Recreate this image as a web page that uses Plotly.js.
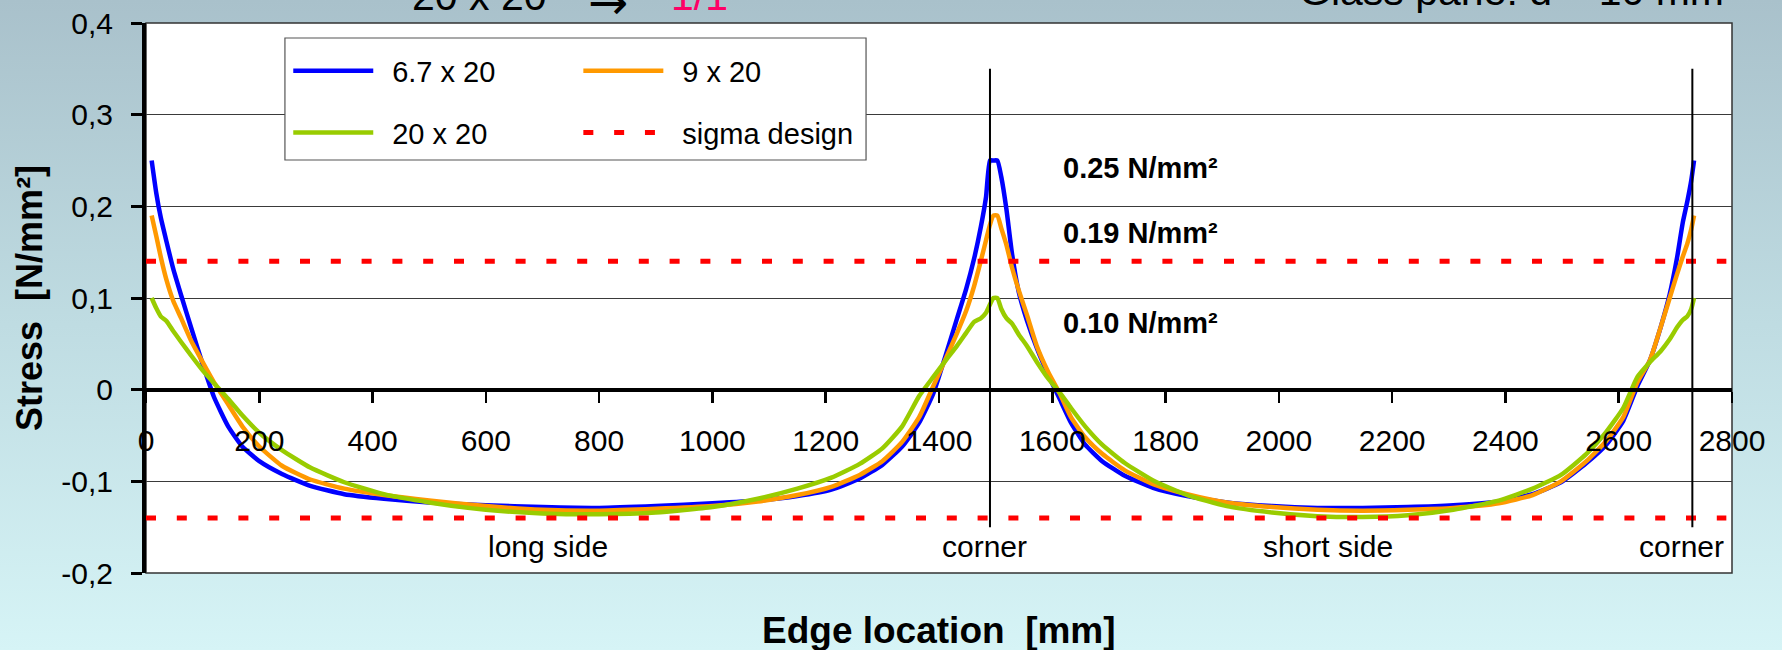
<!DOCTYPE html>
<html>
<head>
<meta charset="utf-8">
<script src="https://cdn.plot.ly/plotly-3.0.1.min.js"></script>
<style>
  html, body { margin: 0; padding: 0; }
  body {
    width: 1782px; height: 650px; overflow: hidden;
    background: linear-gradient(to bottom, #a9c1cb 0%, #bfdce2 50%, #d6f4f6 100%);
  }
  #chart { width: 1782px; height: 650px; }
</style>
</head>
<body>
<div id="chart"></div>
<script>
// Edge stress along the pane perimeter: long side, corner, short side, corner.
const edgeLocation = [
  10, 18, 26, 36, 48, 62, 80, 100, 120, 145, 170, 200, 240, 290, 350, 420, 500, 600, 700, 800,
  900, 1000, 1080, 1150, 1210, 1260, 1300, 1335, 1365, 1390, 1412, 1432, 1448, 1462, 1474, 1483,
  1490, 1496, 1503,
  1510, 1519, 1529, 1541, 1555, 1573, 1593, 1613, 1633, 1658, 1688, 1728, 1778, 1838, 1908, 1988,
  2068, 2148, 2228, 2308, 2388, 2448, 2498, 2543, 2578, 2608, 2633, 2655, 2674, 2690, 2703, 2713,
  2721, 2728, 2733
];

// 6.7 x 20
const stress6_7x20 = [
  0.25, 0.215, 0.188, 0.162, 0.132, 0.103, 0.067, 0.028, -0.008, -0.040, -0.062, -0.078, -0.092, -0.105, -0.114, -0.119, -0.123, -0.126, -0.128, -0.129,
  -0.127, -0.124, -0.121, -0.116, -0.109, -0.097, -0.082, -0.062, -0.036, -0.004, 0.038, 0.078, 0.110, 0.143, 0.178, 0.210,
  0.25, 0.25, 0.25,
  0.232, 0.197, 0.148, 0.106, 0.076, 0.045, 0.016, -0.010, -0.036, -0.060, -0.078, -0.094, -0.107, -0.116, -0.123, -0.127,
  -0.129, -0.129, -0.128, -0.126, -0.122, -0.114, -0.101, -0.080, -0.060, -0.034, 0.004, 0.032, 0.068, 0.104, 0.144, 0.182,
  0.205, 0.228, 0.25
];

// 9 x 20
const stress9x20 = [
  0.19, 0.168, 0.145, 0.120, 0.097, 0.078, 0.053, 0.030, 0.008, -0.016, -0.040, -0.062, -0.083, -0.098, -0.108, -0.115, -0.121, -0.127, -0.131, -0.132,
  -0.130, -0.127, -0.122, -0.115, -0.106, -0.093, -0.078, -0.057, -0.030, 0.004, 0.034, 0.062, 0.086, 0.113, 0.141, 0.163,
  0.180, 0.19, 0.19,
  0.176, 0.158, 0.133, 0.108, 0.082, 0.047, 0.019, -0.004, -0.030, -0.052, -0.070, -0.088, -0.103, -0.114, -0.123, -0.128,
  -0.131, -0.132, -0.131, -0.129, -0.124, -0.115, -0.100, -0.078, -0.056, -0.030, 0.008, 0.032, 0.068, 0.100, 0.126, 0.145,
  0.159, 0.175, 0.19
];

// 20 x 20
const stress20x20 = [
  0.10, 0.089, 0.080, 0.075, 0.064, 0.052, 0.037, 0.021, 0.007, -0.010, -0.028, -0.047, -0.066, -0.085, -0.101, -0.114, -0.123, -0.131, -0.135, -0.136,
  -0.134, -0.128, -0.119, -0.108, -0.096, -0.081, -0.064, -0.040, -0.007, 0.014, 0.032, 0.048, 0.062, 0.074, 0.078, 0.084,
  0.093, 0.10, 0.10,
  0.088, 0.078, 0.072, 0.060, 0.048, 0.030, 0.012, -0.003, -0.020, -0.040, -0.060, -0.080, -0.099, -0.115, -0.127, -0.134,
  -0.138, -0.139, -0.137, -0.131, -0.121, -0.108, -0.093, -0.070, -0.046, -0.020, 0.014, 0.030, 0.042, 0.055, 0.068, 0.076,
  0.080, 0.088, 0.10
];

// design stress limit (+/-)
const sigmaDesign = 0.14;
const sigmaSpan = [0, 2790];

// pane corners along the perimeter coordinate
const cornerLocations = [1490, 2730];

// axis ticks
const xTickValues = [0, 200, 400, 600, 800, 1000, 1200, 1400, 1600, 1800, 2000, 2200, 2400, 2600, 2800];
const yTickValues = [-0.2, -0.1, 0, 0.1, 0.2, 0.3, 0.4];
const yTickLabels = ['-0,2', '-0,1', '0', '0,1', '0,2', '0,3', '0,4'];

// text along the edge
const edgeSectionLabels = ['long side', 'corner', 'short side', 'corner'];
const edgeSectionX = [710, 1480, 2087, 2710];

const FONT = 'Liberation Sans, Arial, Helvetica, sans-serif';
const GAP = '\u00A0\u2009';

const curveLine = (color) => ({ color: color, width: 4.5, shape: 'spline', smoothing: 0.5 });

const traces = [
  { x: edgeLocation, y: stress6_7x20, name: GAP + '6.7 x 20', mode: 'lines',
    line: curveLine('#0000ff'), legend: 'legend', legendgroup: 'a' },
  { x: edgeLocation, y: stress9x20, name: GAP + '9 x 20', mode: 'lines',
    line: curveLine('#ff9900'), legend: 'legend2', legendgroup: 'c' },
  { x: edgeLocation, y: stress20x20, name: GAP + '20 x 20', mode: 'lines',
    line: curveLine('#99cc00'), legend: 'legend', legendgroup: 'b' },
  { x: [sigmaSpan[0], sigmaSpan[1], null, sigmaSpan[0], sigmaSpan[1]],
    y: [sigmaDesign, sigmaDesign, null, -sigmaDesign, -sigmaDesign],
    name: GAP + 'sigma design', mode: 'lines', connectgaps: false,
    line: { color: '#ff0000', width: 5, dash: '10px,20.8px' }, legend: 'legend2', legendgroup: 'd' }
];

const peakLabel = v => v.toFixed(2) + ' N/mm²';
const peaks = [Math.max(...stress6_7x20), Math.max(...stress9x20), Math.max(...stress20x20)];
const peakLabelY = [0.2414, 0.1708, 0.0727];

const annotations = [];
peaks.forEach((p, i) => annotations.push({
  xref: 'x', yref: 'y', x: 1615, y: peakLabelY[i], xanchor: 'left', yanchor: 'middle',
  text: '<b>' + peakLabel(p) + '</b>', showarrow: false,
  font: { family: FONT, size: 29, color: '#000' }
}));
edgeSectionLabels.forEach((t, i) => annotations.push({
  xref: 'x', yref: 'y', x: edgeSectionX[i], y: -0.1713, xanchor: 'center', yanchor: 'middle',
  text: t, showarrow: false, font: { family: FONT, size: 30, color: '#000' }
}));
const headerY = 1.049;
annotations.push(
  { xref: 'paper', yref: 'paper', x: -0.0738, y: 0.5, xanchor: 'center', yanchor: 'middle',
    textangle: -90, text: '<b>Stress\u00A0 [N/mm²]</b>', showarrow: false,
    font: { family: FONT, size: 36, color: '#000' } },
  { xref: 'paper', yref: 'paper', x: 0.5, y: -0.104, xanchor: 'center', yanchor: 'middle',
    text: '<b>Edge location\u00A0 [mm]</b>', showarrow: false,
    font: { family: FONT, size: 37, color: '#000' } },
  { xref: 'paper', yref: 'paper', x: 0.1665, y: headerY, xanchor: 'left', yanchor: 'middle',
    text: '20 x 20', showarrow: false, font: { family: FONT, size: 41, color: '#000' } },
  { xref: 'paper', yref: 'paper', x: 0.2913, y: 1.0385, xanchor: 'center', yanchor: 'middle',
    text: '→', showarrow: false, font: { family: 'DejaVu Sans', size: 48, color: '#000' } },
  { xref: 'paper', yref: 'paper', x: 0.3298, y: headerY, xanchor: 'left', yanchor: 'middle',
    text: '1/1', showarrow: false, font: { family: FONT, size: 41, color: '#ff0066' } },
  { xref: 'paper', yref: 'paper', x: 0.9962, y: 1.0575, xanchor: 'right', yanchor: 'middle',
    text: 'Glass pane: d = 10 mm', showarrow: false, font: { family: FONT, size: 41, color: '#000' } }
);

const shapes = [
  { type: 'rect', xref: 'paper', yref: 'paper', x0: 0, x1: 1, y0: 0, y1: 1,
    line: { color: '#333333', width: 1.5 }, layer: 'below' },
  { type: 'rect', xref: 'paper', yref: 'paper', x0: 0.0876, x1: 0.454, y0: 0.7509, y1: 0.9727,
    fillcolor: '#ffffff', line: { color: '#555555', width: 1.2 }, layer: 'above' }
];
cornerLocations.forEach(c => shapes.push({
  type: 'line', xref: 'x', yref: 'y', x0: c, x1: c, y0: -0.15, y1: 0.35,
  line: { color: '#000000', width: 2 }, layer: 'above'
}));

const legendCommon = {
  bgcolor: 'rgba(0,0,0,0)', borderwidth: 0, font: { family: FONT, size: 29, color: '#000' },
  itemwidth: 80, tracegroupgap: 21, traceorder: 'grouped', yanchor: 'top', xanchor: 'left'
};

const layout = {
  width: 1782, height: 650,
  margin: { l: 146, r: 50, t: 23, b: 77, pad: 0 },
  paper_bgcolor: 'rgba(0,0,0,0)',
  plot_bgcolor: '#ffffff',
  font: { family: FONT, size: 30, color: '#000' },
  showlegend: true,
  xaxis: {
    range: [0, 2800], tickvals: xTickValues, ticktext: xTickValues.map(String),
    anchor: 'free', position: 1 / 3,
    showline: true, linecolor: '#000', linewidth: 4,
    ticks: 'outside', ticklen: 11, tickwidth: 2.5, tickcolor: '#000',
    showgrid: false, zeroline: false, tickfont: { family: FONT, size: 30, color: '#000' },
    ticklabelstandoff: 12
  },
  yaxis: {
    range: [-0.2, 0.4], tickvals: yTickValues, ticktext: yTickLabels,
    showline: true, linecolor: '#000', linewidth: 4,
    ticks: 'outside', ticklen: 11, tickwidth: 3, tickcolor: '#000',
    showgrid: true, gridcolor: '#3a3a3a', gridwidth: 1, zeroline: false,
    tickfont: { family: FONT, size: 30, color: '#000' }, ticklabelstandoff: 12
  },
  legend: Object.assign({ x: 0.0897, y: 0.9592 }, legendCommon),
  legend2: Object.assign({ x: 0.2726, y: 0.9592 }, legendCommon),
  shapes: shapes,
  annotations: annotations
};

Plotly.newPlot('chart', traces, layout, { staticPlot: true, displayModeBar: false });
</script>
</body>
</html>
